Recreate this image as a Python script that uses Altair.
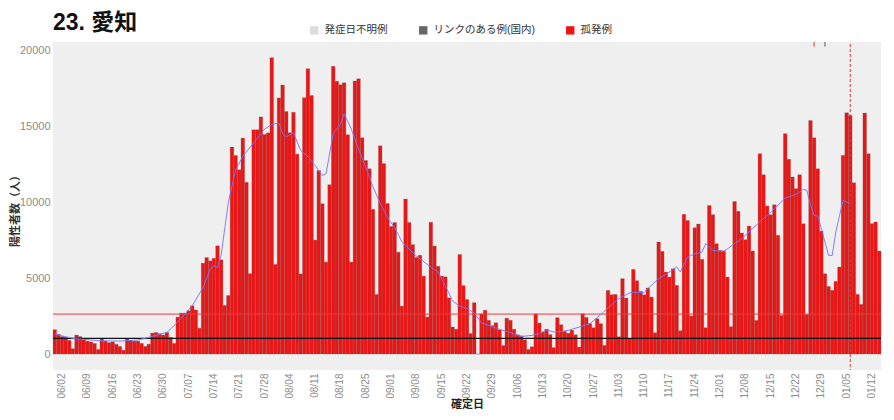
import altair as alt
import pandas as pd

# ---------------- data ----------------
START_DATE = "2022-05-31"

# daily positives (孤発例), 05/31 .. 01/14
cases = [
    1600, 1300, 1150, 1100, 900, 350, 1250, 1150, 950, 850,
    800, 700, 300, 1000, 850, 750, 800, 650, 500, 250,
    1000, 900, 850, 850, 700, 500, 650, 1380, 1420, 1340,
    1250, 1420, 1100, 700, 2430, 2690, 2690, 2850, 3175, 2900,
    1700, 5980, 6350, 6130, 6300, 7120, 6200, 3200, 3850, 13620,
    13070, 12120, 14210, 11300, 5290, 14750, 14750, 15600, 14450, 14550,
    19500, 5900, 16850, 17700, 15950, 14560, 15900, 13150, 5270, 16870,
    18770, 17010, 7500, 12070, 9890, 6050, 11140, 18930, 17940, 17720,
    17850, 14430, 6050, 17960, 18110, 14230, 12740, 12190, 9520, 3925,
    13700, 12530, 9900, 8400, 8650, 6700, 3150, 10200, 8660, 7200,
    6360, 6500, 5130, 2440, 8670, 7110, 5770, 5130, 5080, 3700,
    1780, 1630, 6550, 4500, 3590, 1350, 3380, 0, 2640, 2880,
    2220, 1870, 2060, 1590, 560, 2360, 2220, 1630, 1270, 1200,
    940, 300, 480, 2640, 2040, 1440, 1630, 1280, 420, 2390,
    1930, 1490, 1370, 1570, 1270, 460, 2650, 2410, 2000, 1730,
    2325, 2000, 570, 4190, 3900, 3925, 1140, 4960, 3685, 1010,
    5570, 4825, 4125, 3900, 4340, 3750, 1400, 7370, 6755, 5395,
    5065, 5615, 4520, 1535, 9190, 8790, 2500, 8310, 8550, 6230,
    1730, 9780, 9170, 7260, 6820, 6790, 5065, 1800, 10040, 9390,
    7960, 7520, 8420, 6780, 2215, 13180, 11800, 9740, 9170, 9820,
    7810, 2540, 14500, 12810, 11650, 10880, 11800, 8575, 2590, 15370,
    14230, 12190, 8090, 5285, 4450, 4190, 4780, 5725, 13070, 15880,
    15700, 11270, 3925, 3270, 15860, 13180, 8575, 8680, 6780,
]

# smoothed (blue) line, read at these day positions (0 = 05/31)
ma_days = [
    0, 5, 12, 18, 23, 26, 31, 34, 38, 41, 43, 44, 45, 46, 48, 50, 52, 55, 58, 60,
    62, 63, 64, 66, 68, 70, 72, 74, 75, 77, 79, 80, 81, 82, 84, 86, 88, 90, 92, 94,
    96, 98, 100, 103, 106, 108, 110, 112, 114, 116, 118, 120, 123, 126, 129, 132, 134, 136, 138, 140,
    142, 145, 148, 151, 154, 156, 159, 161, 163, 164, 167, 170, 172, 173, 175, 177, 179, 180, 182, 185,
    188, 190, 192, 195, 197, 199, 202, 205, 207, 208, 209, 210, 211, 213, 214, 215, 216, 218, 220,
]
ma_values = [
    1310, 1030, 880, 855, 920, 1100, 1420, 2100, 3175, 4380, 5600, 5800, 5700, 6500, 10000, 12100, 13000, 13900, 14800, 15100,
    15200, 14500, 14300, 14550, 13400, 13000, 12400, 11750, 11850, 14500, 15100, 15800, 15300, 14800, 13500, 12300, 11000, 9900, 9000, 8300,
    7400, 6900, 6450, 5900, 5400, 4500, 3500, 3150, 3000, 2700, 2050, 1890, 1620, 1420, 1150, 1230, 1340, 1600, 1450, 1490,
    1560, 1770, 2000, 2600, 3250, 3640, 4030, 4050, 4040, 4300, 4960, 5400, 5730, 5400, 6380, 6600, 6710, 7260, 6820, 6750,
    7260, 7590, 8030, 8700, 9120, 9560, 10260, 10500, 10830, 10770, 9800, 9120, 9080, 7370, 6490, 6490, 8030, 10110, 9890,
]

tick_labels = [
    "06/02", "06/09", "06/16", "06/23", "06/30", "07/07", "07/14", "07/21", "07/28",
    "08/04", "08/11", "08/18", "08/25", "09/01", "09/08", "09/15", "09/22", "09/29",
    "10/06", "10/13", "10/20", "10/27", "11/03", "11/10", "11/17", "11/24", "12/01",
    "12/08", "12/15", "12/22", "12/29", "01/05", "01/12",
]
y_ticks = [0, 5000, 10000, 15000, 20000]

legend_types = ["発症日不明例", "リンクのある例(国内)", "孤発例"]
legend_colors = ["#dcdcdc", "#666666", "#ee1414"]

red_level = [2630]
black_level = [1030]
event_days = ["01/06"]
top_red_days = ["12/27"]
top_gray_days = ["12/30"]

Y_MIN, Y_MAX = -1050, 20530

# ---------------- tables ----------------
dates = pd.date_range(START_DATE, periods=len(cases), freq="D").strftime("%m/%d").tolist()
bars_df = pd.DataFrame({"date": dates, "cases": cases, "type": "孤発例"})
ma_df = pd.DataFrame({"date": [dates[i] for i in ma_days], "ma": ma_values})
red_df = pd.DataFrame({"level": red_level})
black_df = pd.DataFrame({"level": black_level})
event_df = pd.DataFrame({"date": event_days, "top": [20400] * len(event_days), "bottom": [Y_MIN] * len(event_days)})
tr_df = pd.DataFrame({"date": top_red_days, "top": [Y_MAX], "bottom": [20230]})
tg_df = pd.DataFrame({"date": top_gray_days, "top": [Y_MAX], "bottom": [20230]})

FONT = "Liberation Sans, Noto Sans CJK JP"

xscale = alt.Scale(domain=dates, paddingInner=0, paddingOuter=0)
yscale = alt.Scale(domain=[Y_MIN, Y_MAX], nice=False, zero=False)

x_axis = alt.Axis(
    values=tick_labels, labelAngle=270, labelColor="#8c8c8c", labelFontSize=10,
    ticks=False, domain=False, grid=False,
    title="確定日", titleFontWeight="bold", titleFontSize=11, titleColor="#222222",
    labelPadding=3, titlePadding=0,
)
y_axis = alt.Axis(
    values=y_ticks, format="d", labelColor="#8c8c8c", labelFontSize=11, ticks=False,
    labelPadding=3, domain=False, grid=False, title="陽性者数（人）",
    titleFontWeight="bold", titleFontSize=11, titleColor="#333333",
    titleX=-33, titleY=166,
)

bars = alt.Chart(bars_df).mark_bar(stroke="#6e6e6e", strokeWidth=0.3).encode(
    x=alt.X("date:O", scale=xscale, axis=x_axis, sort=None),
    y=alt.Y("cases:Q", scale=yscale, axis=y_axis),
    color=alt.Color(
        "type:N",
        scale=alt.Scale(domain=legend_types, range=legend_colors),
        legend=alt.Legend(
            title=None, orient="none", legendX=256, legendY=-17, direction="horizontal",
            symbolType="square", symbolSize=70, symbolStrokeWidth=0, labelFontSize=10.5,
            labelColor="#333333", labelOffset=5, columnPadding=30, padding=0,
        ),
    ),
)

line = alt.Chart(ma_df).mark_line(color="#7474ff", strokeWidth=1, opacity=0.9).encode(
    x=alt.X("date:O", scale=xscale, sort=None),
    y=alt.Y("ma:Q", scale=yscale),
)

red_rule = alt.Chart(red_df).mark_rule(color="#f03c3c", strokeWidth=1).encode(
    y=alt.Y("level:Q", scale=yscale)
)
black_rule = alt.Chart(black_df).mark_rule(color="#111111", strokeWidth=1.2).encode(
    y=alt.Y("level:Q", scale=yscale)
)
event_rule = alt.Chart(event_df).mark_rule(color="#e53030", strokeWidth=1, strokeDash=[3, 2]).encode(
    x=alt.X("date:O", scale=xscale, sort=None),
    y=alt.Y("top:Q", scale=yscale),
    y2="bottom:Q",
)
top_red = alt.Chart(tr_df).mark_rule(color="#e53030", strokeWidth=1).encode(
    x=alt.X("date:O", scale=xscale, sort=None),
    y=alt.Y("top:Q", scale=yscale),
    y2="bottom:Q",
)
top_gray = alt.Chart(tg_df).mark_rule(color="#555555", strokeWidth=1).encode(
    x=alt.X("date:O", scale=xscale, sort=None),
    y=alt.Y("top:Q", scale=yscale),
    y2="bottom:Q",
)

chart = alt.layer(bars, red_rule, black_rule, line, event_rule, top_red, top_gray).properties(
    width=828,
    height=328,
    autosize=alt.AutoSizeParams(type="none"),
    padding={"left": 45, "top": 34, "right": 5, "bottom": 42},
    title=alt.TitleParams(
        text="23. 愛知", anchor="start", frame="group", fontSize=23, fontWeight="bold",
        color="#111111", offset=0, dy=10, font=FONT,
    ),
).configure(font=FONT).configure_view(fill="#efefef", strokeWidth=0)

chart.save("out.html", embed_options={"renderer": "svg", "actions": False})
